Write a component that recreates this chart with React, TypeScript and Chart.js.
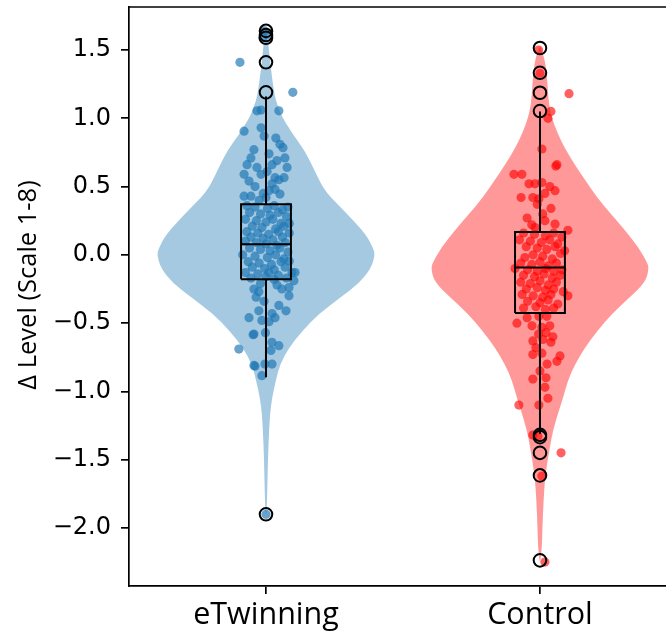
import React, { useEffect, useRef } from "react";
import { Chart, registerables } from "chart.js";

Chart.register(...registerables);

// ---------- data ----------
const categories = ["eTwinning", "Control"];
const yTicks = [-2.0, -1.5, -1.0, -0.5, 0.0, 0.5, 1.0, 1.5];
const yTitle = "\u0394 Level (Scale 1-8)";

// violin profiles: value and half-width (category units)
const etwViolinY = [1.64, 1.6, 1.5, 1.4, 1.3, 1.2, 1.13, 1.05, 1.0, 0.88, 0.76, 0.64, 0.52, 0.45, 0.39, 0.27, 0.15, 0.05, 0.0, -0.1, -0.21, -0.31, -0.43, -0.56, -0.68, -0.8, -0.92, -1.05, -1.16, -1.3, -1.5, -1.7, -1.9];
const etwViolinW = [0.002, 0.005, 0.011, 0.016, 0.022, 0.029, 0.036, 0.051, 0.062, 0.099, 0.142, 0.172, 0.201, 0.223, 0.252, 0.31, 0.365, 0.391, 0.398, 0.383, 0.339, 0.274, 0.193, 0.131, 0.084, 0.051, 0.036, 0.022, 0.015, 0.011, 0.007, 0.005, 0.002];
const ctlViolinY = [1.52, 1.45, 1.35, 1.2, 1.1, 1.0, 0.9, 0.78, 0.66, 0.54, 0.42, 0.3, 0.18, 0.06, -0.05, -0.1, -0.2, -0.31, -0.43, -0.56, -0.68, -0.8, -0.92, -1.05, -1.16, -1.29, -1.41, -1.53, -1.65, -1.8, -2.0, -2.14, -2.24];
const ctlViolinW = [0.002, 0.015, 0.024, 0.029, 0.033, 0.044, 0.062, 0.091, 0.127, 0.168, 0.208, 0.259, 0.31, 0.358, 0.39, 0.398, 0.385, 0.328, 0.263, 0.208, 0.164, 0.128, 0.102, 0.084, 0.066, 0.047, 0.036, 0.026, 0.018, 0.013, 0.009, 0.007, 0.002];

// box stats: [whiskerLow, q1, median, q3, whiskerHigh]
const etwBox = [-0.897, -0.178, 0.078, 0.371, 1.16];
const ctlBox = [-1.31, -0.426, -0.093, 0.168, 1.05];

// outliers
const etwOutliers = [1.64, 1.61, 1.59, 1.41, 1.19, -1.9];
const ctlOutliers = [1.515, 1.333, 1.187, 1.053, -1.318, -1.335, -1.45, -1.615, -2.237];

// jittered observations: value and horizontal jitter (category units)
const etwValues = [
  1.64, 1.61, 1.59, 1.41, 1.19, -1.9,
  1.055, 1.06, 1.055, 0.906, 0.93, 0.87, 0.855, 0.81, 0.785,
  0.77, 0.71, 0.66, 0.59, 0.54, 0.64, 0.59, 0.74, 0.66, 0.69, 0.71, 0.64, 0.565, 0.565, 0.52, 0.47, 0.43, 0.43, 0.445, 0.48,
  0.5, 0.61, 0.55, 0.42, 0.4, 0.45,
  0.36, 0.35, 0.34, 0.36, 0.33, 0.35,
  0.31, 0.3, 0.29, 0.31, 0.28,
  0.26, 0.25, 0.24, 0.26, 0.23, 0.23,
  0.21, 0.2, 0.19, 0.21,
  0.17, 0.16, 0.15, 0.17, 0.16,
  0.13, 0.12, 0.11, 0.13,
  0.1, 0.09, 0.08, 0.07, 0.09,
  0.05, 0.04, 0.03, 0.05, 0.02,
  0.0, -0.01, -0.02, 0.0, -0.03,
  -0.05, -0.06, -0.07, -0.05, -0.045,
  -0.09, -0.1, -0.11, -0.09,
  -0.13, -0.14, -0.13, -0.15, -0.13, -0.13,
  -0.17, -0.16, -0.18, -0.17,
  -0.19, -0.24, -0.3, -0.25, -0.25, -0.27, -0.31, -0.34, -0.37, -0.41, -0.43, -0.41, -0.46, -0.48, -0.49, -0.46,
  -0.57, -0.58, -0.585, -0.69, -0.64, -0.665, -0.7, -0.81, -0.815, -0.8, -0.8, -0.885, -0.21, -0.22,
];
const etwJitter = [
  -0.005, 0.008, -0.012, -0.095, 0.098, 0.0,
  -0.033, -0.018, 0.047, -0.08, -0.018, -0.007, 0.036, 0.051, 0.062,
  -0.044, -0.055, -0.069, -0.08, -0.062, -0.033, -0.018, 0.011, 0.022, 0.04, 0.069, 0.077, 0.066, 0.033, 0.022, 0.011, -0.08, -0.055, 0.051, 0.033,
  -0.04, 0.004, 0.047, 0.0, -0.025, -0.01,
  -0.07, -0.04, 0.005, 0.03, 0.06, 0.08,
  -0.06, -0.02, 0.015, 0.045, 0.075,
  -0.075, -0.035, 0.0, 0.025, 0.055, 0.085,
  -0.05, -0.015, 0.035, 0.065,
  -0.07, -0.03, 0.01, 0.045, 0.085,
  -0.055, -0.01, 0.025, 0.06,
  -0.075, -0.035, 0.0, 0.04, 0.07,
  -0.06, -0.02, 0.015, 0.05, 0.08,
  -0.085, -0.04, 0.005, 0.035, 0.065,
  -0.065, -0.025, 0.02, 0.055, 0.085,
  -0.05, -0.005, 0.03, 0.07,
  -0.075, -0.03, 0.01, 0.045, 0.095, 0.106,
  -0.055, 0.0, 0.03, 0.075,
  0.102, 0.084, 0.084, 0.058, -0.044, -0.026, -0.036, -0.007, 0.047, 0.073, 0.022, -0.026, -0.062, -0.015, 0.011, 0.033,
  -0.002, -0.044, -0.047, -0.099, 0.022, 0.047, 0.018, -0.044, -0.04, -0.004, 0.022, -0.015, -0.02, 0.04,
];

const ctlValues = [
  1.5, 1.33, 1.18, 1.05, 1.0, -1.32, -1.33, -1.45, -1.62, -2.25,
  0.775, 0.65, 0.66, 0.59, 0.59, 0.52, 0.53, 0.45, 0.42, 0.42, 0.52, 0.5, 0.47, 0.41, 0.34, 0.27, 0.25, 0.225, 0.18, 0.2, 0.37, 0.3, 0.22,
  0.16, 0.15, 0.14, 0.16, 0.13,
  0.11, 0.1, 0.09, 0.11, 0.08,
  0.06, 0.05, 0.04, 0.06, 0.03,
  -0.02, 0.0, -0.01, -0.03, 0.01,
  -0.06, -0.07, -0.05, -0.08, -0.06,
  -0.1, -0.11, -0.12, -0.1, -0.12, -0.11,
  -0.15, -0.16, -0.14, -0.17, -0.15,
  -0.2, -0.21, -0.19, -0.22, -0.2,
  -0.25, -0.24, -0.26, -0.25, -0.27,
  -0.3, -0.29, -0.3, -0.31, -0.29,
  -0.34, -0.35, -0.33, -0.36,
  -0.39, -0.38, -0.4, -0.39,
  -0.46, -0.5, -0.45, -0.52, -0.53, -0.52, -0.57, -0.6, -0.63, -0.62, -0.64, -0.73, -0.72, -0.74, -0.78, -0.8, -0.91, -0.9, -0.97, -1.05, -1.1, -1.1, -0.45, -0.58, -0.68, -0.85,
];
const ctlJitter = [
  -0.005, 0.0, 0.106, 0.04, 0.029, -0.026, -0.007, 0.077, 0.007, 0.018,
  0.007, 0.058, 0.062, -0.095, -0.066, -0.018, 0.007, 0.018, -0.069, -0.026, -0.04, 0.036, 0.055, -0.004, 0.04, -0.047, 0.018, 0.055, 0.102, -0.018, -0.01, 0.01, -0.03,
  -0.06, -0.02, 0.02, 0.05, 0.08,
  -0.075, -0.035, 0.005, 0.035, 0.065,
  -0.05, -0.01, 0.025, 0.055, 0.09,
  -0.055, -0.025, 0.01, 0.045, 0.075,
  -0.07, -0.03, 0.0, 0.03, 0.06,
  -0.091, -0.045, -0.01, 0.02, 0.05, 0.08,
  -0.06, -0.02, 0.015, 0.045, 0.075,
  -0.07, -0.035, 0.0, 0.03, 0.06,
  -0.05, -0.01, 0.02, 0.05, 0.085,
  0.102, -0.065, -0.025, 0.01, 0.04,
  -0.045, 0.0, 0.03, 0.065,
  -0.06, -0.015, 0.02, 0.05,
  -0.047, -0.084, 0.025, -0.029, 0.007, 0.036, 0.022, 0.047, -0.026, 0.011, 0.04, -0.026, 0.007, 0.073, 0.062, 0.026, -0.026, 0.022, 0.018, 0.029, -0.077, -0.004, -0.004, -0.005, -0.015, 0.0,
];

// ---------- styling ----------
const groups = [
  { pos: 0, vy: etwViolinY, vw: etwViolinW, box: etwBox, out: etwOutliers, vals: etwValues, jit: etwJitter, fill: "rgba(31,119,180,0.4)", dot: "rgba(31,119,180,0.68)" },
  { pos: 1, vy: ctlViolinY, vw: ctlViolinW, box: ctlBox, out: ctlOutliers, vals: ctlValues, jit: ctlJitter, fill: "rgba(255,0,0,0.4)", dot: "rgba(255,0,0,0.62)" },
];
const BOX_HALF = 0.091;
const AXIS_W = 1.7;

const violinPlugin = {
  id: "violins",
  beforeDatasetsDraw(chart: any) {
    const { ctx, chartArea, scales } = chart;
    const x = scales.x, y = scales.y;
    ctx.save();
    ctx.beginPath();
    ctx.rect(chartArea.left, chartArea.top, chartArea.right - chartArea.left, chartArea.bottom - chartArea.top);
    ctx.clip();
    groups.forEach((g) => {
      const pts: [number, number][] = [];
      for (let i = 0; i < g.vy.length; i++) pts.push([x.getPixelForValue(g.pos + g.vw[i]), y.getPixelForValue(g.vy[i])]);
      for (let i = g.vy.length - 1; i >= 0; i--) pts.push([x.getPixelForValue(g.pos - g.vw[i]), y.getPixelForValue(g.vy[i])]);
      ctx.beginPath();
      ctx.moveTo(pts[0][0], pts[0][1]);
      for (let i = 1; i < pts.length - 1; i++) {
        const mx = (pts[i][0] + pts[i + 1][0]) / 2;
        const my = (pts[i][1] + pts[i + 1][1]) / 2;
        ctx.quadraticCurveTo(pts[i][0], pts[i][1], mx, my);
      }
      ctx.lineTo(pts[pts.length - 1][0], pts[pts.length - 1][1]);
      ctx.closePath();
      ctx.fillStyle = g.fill;
      ctx.fill();
    });
    ctx.restore();
  },
  afterDraw(chart: any) {
    const { ctx, chartArea } = chart;
    ctx.save();
    ctx.strokeStyle = "#000";
    ctx.lineWidth = AXIS_W;
    ctx.beginPath();
    ctx.moveTo(chartArea.left, chartArea.top);
    ctx.lineTo(chartArea.right, chartArea.top);
    ctx.stroke();
    // y axis title
    ctx.translate(29, 285);
    ctx.rotate(-Math.PI / 2);
    ctx.font = "25.5px 'Open Sans'";
    ctx.fillStyle = "#000";
    ctx.textAlign = "center";
    ctx.textBaseline = "middle";
    ctx.fillText(yTitle, 0, 0);
    ctx.restore();
  },
};

export default function App() {
  const ref = useRef<HTMLCanvasElement | null>(null);
  useEffect(() => {
    if (!ref.current) return;
    const datasets: any[] = [];
    groups.forEach((g) => {
      datasets.push({
        type: "scatter",
        order: 3,
        data: g.vals.map((v, i) => ({ x: g.pos + g.jit[i], y: v })),
        pointRadius: 4.6,
        pointBorderWidth: 0,
        pointBackgroundColor: g.dot,
        backgroundColor: g.dot,
        borderWidth: 0,
      });
      const [wl, q1, med, q3, wh] = g.box;
      const lineDs = (data: any[]) => ({
        type: "scatter",
        order: 2,
        data,
        showLine: true,
        borderColor: "#000",
        borderWidth: 2,
        pointRadius: 0,
        fill: false,
        tension: 0,
        borderJoinStyle: "miter",
      });
      datasets.push(lineDs([
        { x: g.pos - BOX_HALF, y: q1 }, { x: g.pos + BOX_HALF, y: q1 }, { x: g.pos + BOX_HALF, y: q3 }, { x: g.pos - BOX_HALF, y: q3 }, { x: g.pos - BOX_HALF, y: q1 },
      ]));
      datasets.push(lineDs([{ x: g.pos - BOX_HALF, y: med }, { x: g.pos + BOX_HALF, y: med }]));
      datasets.push(lineDs([{ x: g.pos, y: q1 }, { x: g.pos, y: wl }]));
      datasets.push(lineDs([{ x: g.pos, y: q3 }, { x: g.pos, y: wh }]));
      datasets.push({
        type: "scatter",
        order: 1,
        data: g.out.map((v) => ({ x: g.pos, y: v })),
        pointRadius: 6.3,
        pointBorderWidth: 2,
        pointBorderColor: "#000",
        pointBackgroundColor: "rgba(0,0,0,0)",
        borderColor: "#000",
        backgroundColor: "rgba(0,0,0,0)",
      });
    });

    const chart = new Chart(ref.current, {
      type: "scatter",
      data: { datasets },
      plugins: [violinPlugin],
      options: {
        animation: false,
        responsive: false,
        maintainAspectRatio: false,
        events: [],
        layout: { autoPadding: false, padding: { top: 7, right: 0, left: 0, bottom: 0 } },
        plugins: { legend: { display: false }, tooltip: { enabled: false } },
        scales: {
          x: {
            type: "linear",
            min: -0.5,
            max: 1.46,
            afterBuildTicks: (s: any) => { s.ticks = categories.map((_, i) => ({ value: i })); },
            afterFit: (s: any) => { s.height = 45; s.paddingLeft = 0; s.paddingRight = 0; s.paddingTop = 0; s.paddingBottom = 0; },
            ticks: {
              callback: (v: any) => categories[Math.round(Number(v))],
              font: { family: "Open Sans", size: 30.5 },
              color: "#000",
              padding: 3,
              maxRotation: 0,
              autoSkip: false,
            },
            grid: { display: true, drawOnChartArea: false, drawTicks: true, tickLength: 8, color: "#000", lineWidth: AXIS_W },
            border: { display: true, color: "#000", width: AXIS_W },
          },
          y: {
            type: "linear",
            min: -2.425,
            max: 1.815,
            afterBuildTicks: (s: any) => { s.ticks = yTicks.map((v) => ({ value: v })); },
            afterFit: (s: any) => { s.width = 129; s.paddingLeft = 0; s.paddingRight = 0; s.paddingTop = 0; s.paddingBottom = 0; },
            ticks: {
              callback: (v: any) => { const n = Number(v); return (n < -1e-9 ? "\u2212" : "") + Math.abs(n).toFixed(1); },
              font: { family: "DejaVu Sans", size: 24 },
              color: "#000",
              padding: 10,
              autoSkip: false,
            },
            grid: { display: true, drawOnChartArea: false, drawTicks: true, tickLength: 8, color: "#000", lineWidth: AXIS_W },
            border: { display: true, color: "#000", width: AXIS_W },
          },
        },
      } as any,
    });
    return () => chart.destroy();
  }, []);

  return (
    <div style={{ position: "absolute", left: 0, top: 0, width: 666, height: 631, background: "#fff" }}>
      <canvas ref={ref} width={666} height={631} style={{ width: 666, height: 631, display: "block" }} />
    </div>
  );
}
